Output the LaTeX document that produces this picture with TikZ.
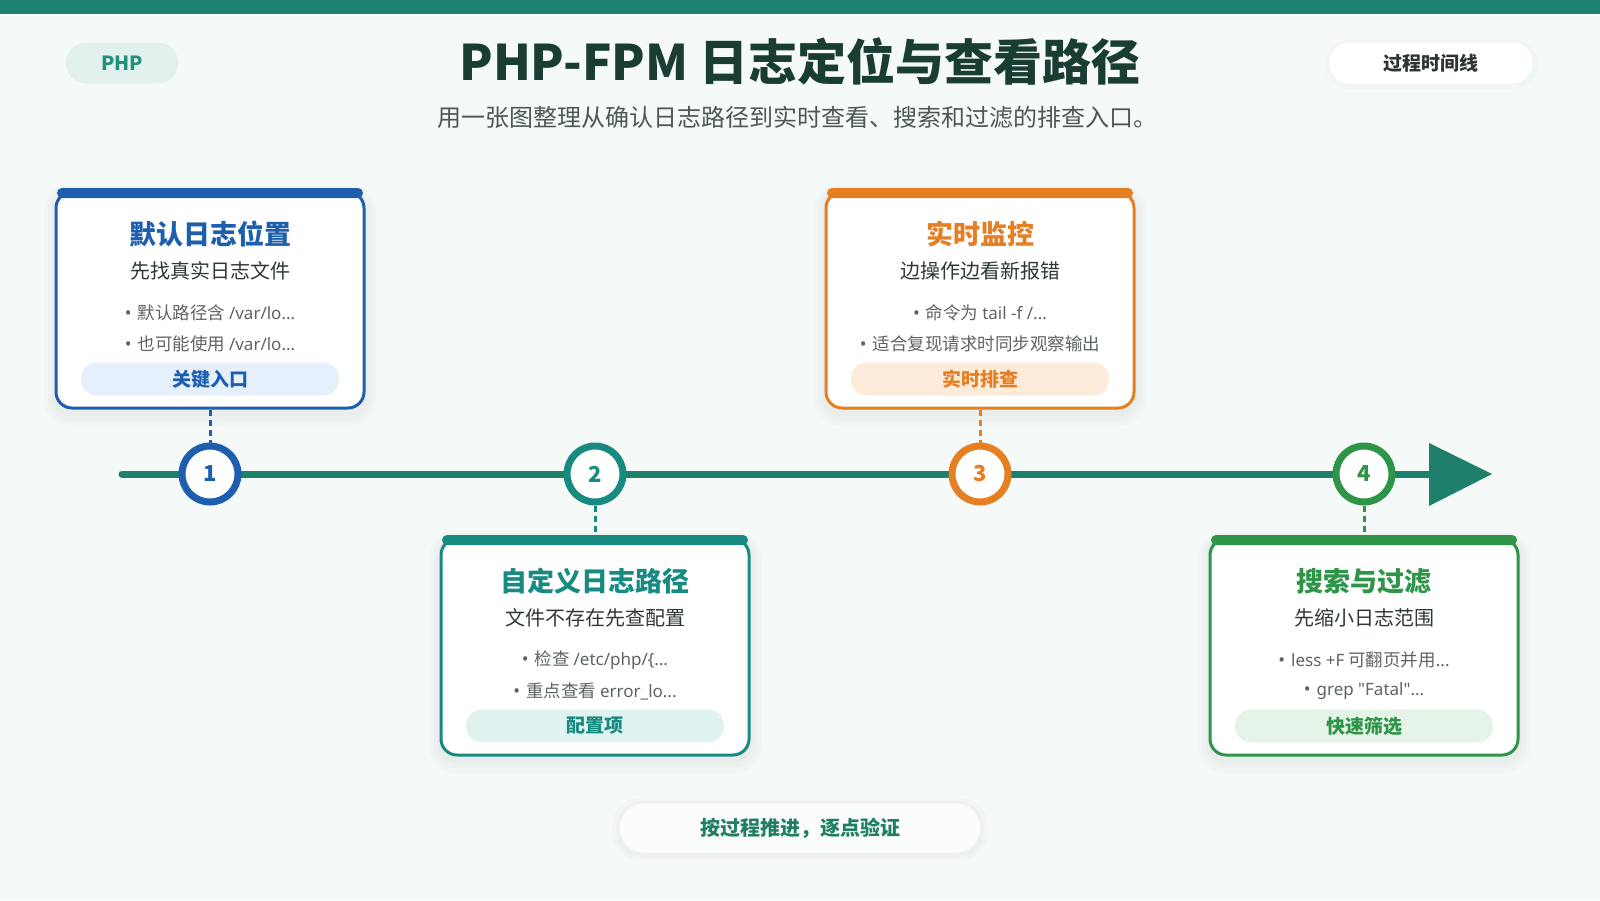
\documentclass[tikz,border=0pt]{standalone}
\usepackage{fontspec}
\setmainfont{Noto Sans CJK SC}
\newfontfamily\latf{Noto Sans}
\usetikzlibrary{arrows.meta}
\definecolor{bg}{HTML}{F5F9F8}
\definecolor{topbar}{HTML}{1B8370}
\definecolor{tline}{HTML}{1E7F6A}
\definecolor{cblue}{HTML}{1E5EAE}
\definecolor{cteal}{HTML}{178A82}
\definecolor{corange}{HTML}{E67E22}
\definecolor{cgreen}{HTML}{2E9447}
\definecolor{fblue}{HTML}{E5F0FC}
\definecolor{fteal}{HTML}{E0F3F0}
\definecolor{forange}{HTML}{FDEBDA}
\definecolor{fgreen}{HTML}{E5F3E8}
\definecolor{titlec}{HTML}{1A3D33}
\definecolor{subc}{HTML}{4D5753}
\definecolor{darkc}{HTML}{2E3835}
\definecolor{bulc}{HTML}{5C6562}
\definecolor{phpfill}{HTML}{E3F1EE}
\definecolor{phptext}{HTML}{23917A}
\definecolor{pilltext}{HTML}{2F3533}
\definecolor{bottext}{HTML}{1F7F62}
\tikzset{
  cardbox/.style={line width=3pt, fill=white, rounded corners=16pt, minimum width=308pt, minimum height=216pt, inner sep=0pt},
  cardtitle/.style={font=\bfseries\fontsize{27}{30}\selectfont},
  cardsub/.style={font=\fontsize{20}{24}\selectfont, text=darkc},
  cardbul/.style={font=\fontsize{17.5}{21}\selectfont, text=bulc},
  tagpill/.style={rounded corners=16pt, minimum width=258pt, minimum height=33pt, inner sep=0pt, font=\bfseries\fontsize{19}{22}\selectfont},
  stepdot/.style={circle, line width=7pt, fill=white, minimum size=56pt, inner sep=0pt, font=\bfseries\fontsize{22}{24}\selectfont},
  linkdash/.style={line width=3pt, dash pattern=on 6pt off 4pt},
  softshadow/.style={fill=black, opacity=0.014},
}
\newcommand{\lat}[1]{{\latf\fontsize{17}{21}\selectfont #1}}
\newcommand{\bul}{{\latf\fontsize{18}{21}\selectfont •}\hspace{6pt}}
\newcommand{\tagtxt}{}
\newcommand{\tlcard}[9]{%
  \fill[softshadow, rounded corners=26pt] ({#2-166},{#3-4}) rectangle ({#2+166},{#3+238});
  \fill[softshadow, rounded corners=22pt] ({#2-162},{#3-1}) rectangle ({#2+162},{#3+233});
  \fill[softshadow, rounded corners=18pt] ({#2-158},{#3+2}) rectangle ({#2+158},{#3+228});
  \node[cardbox, draw=#4] (#1) at (#2,{#3+112}) {};
  \fill[#4, rounded corners=5pt] ({#2-153},{#3}) rectangle ({#2+153},{#3+10});
  \node[cardtitle, text=#4] (#1t) at (#2,{#3+46}) {#6};
  \node[cardsub] (#1s) at (#2,{#3+83}) {#7};
  \node[cardbul] (#1a) at (#2,{#3+125}) {\bul #8};
  \node[cardbul] (#1b) at (#2,{#3+156}) {\bul #9};
  \node[tagpill, fill=#5, text=#4] (#1g) at (#2,{#3+191}) {\tagtxt};
}
\begin{document}
\begin{tikzpicture}[x=1pt,y=-1pt]
\useasboundingbox (0,0) rectangle (1600,900);
\fill[bg] (0,0) rectangle (1600,900);
\fill[topbar] (0,0) rectangle (1600,14);

% header
\node[fill=phpfill, rounded corners=20pt, minimum width=112pt, minimum height=41pt, inner sep=0pt, text=phptext, font=\bfseries\fontsize{19.5}{22}\selectfont] (php) at (122,63) {PHP};
\node[font=\bfseries\fontsize{49}{54}\selectfont, text=titlec] (title) at (800,61) {PHP-FPM 日志定位与查看路径};
\node[font=\fontsize{24}{28}\selectfont, text=subc] (subtitle) at (797,117) {用一张图整理从确认日志路径到实时查看、搜索和过滤的排查入口。};
\fill[softshadow, rounded corners=24pt] (1325,40) rectangle (1538,89);
\node[fill=white, rounded corners=20pt, minimum width=203pt, minimum height=41pt, inner sep=0pt, text=pilltext, font=\bfseries\fontsize{19}{22}\selectfont] (tlbadge) at (1431,63) {过程时间线};

% timeline
\coordinate (tstart) at (122,474);
\coordinate (tend) at (1440,474);
\draw[tline, line width=7pt, line cap=round] (tstart) -- (tend);
\coordinate (tipA) at (1429,443);
\coordinate (tipB) at (1492,474);
\coordinate (tipC) at (1429,506);
\fill[tline] (tipA) -- (tipB) -- (tipC) -- cycle;

% cards
\renewcommand{\tagtxt}{关键入口}
\tlcard{c1}{210}{188}{cblue}{fblue}{默认日志位置}{先找真实日志文件}{默认路径含 \lat{/var/lo...}}{也可能使用 \lat{/var/lo...}}
\renewcommand{\tagtxt}{配置项}
\tlcard{c2}{595}{535}{cteal}{fteal}{自定义日志路径}{文件不存在先查配置}{检查 \lat{/etc/php/\{...}}{重点查看 \lat{error\_lo...}}
\renewcommand{\tagtxt}{实时排查}
\tlcard{c3}{980}{188}{corange}{forange}{实时监控}{边操作边看新报错}{命令为 \lat{tail -f /...}}{适合复现请求时同步观察输出}
\renewcommand{\tagtxt}{快速筛选}
\tlcard{c4}{1364}{535}{cgreen}{fgreen}{搜索与过滤}{先缩小日志范围}{\lat{less +F} 可翻页并用\lat{...}}{\lat{grep "Fatal"...}}

% step dots
\node[stepdot, draw=cblue, text=cblue] (n1) at (210,474) {1};
\node[stepdot, draw=cteal, text=cteal] (n2) at (595,474) {2};
\node[stepdot, draw=corange, text=corange] (n3) at (980,474) {3};
\node[stepdot, draw=cgreen, text=cgreen] (n4) at (1364,474) {4};

\draw[linkdash, cblue] (c1.south) -- (n1.north);
\draw[linkdash, cteal] (n2.south) -- (c2.north);
\draw[linkdash, corange] (c3.south) -- (n3.north);
\draw[linkdash, cgreen] (n4.south) -- (c4.north);

% bottom note
\fill[softshadow, rounded corners=28pt] (612,798) rectangle (988,860);
\fill[softshadow, rounded corners=26pt] (616,801) rectangle (984,857);
\node[fill=white!60!bg, rounded corners=24pt, minimum width=360pt, minimum height=49pt, inner sep=0pt, text=bottext, font=\bfseries\fontsize{20}{24}\selectfont] (note) at (800,828) {按过程推进，逐点验证};
\end{tikzpicture}
\end{document}
